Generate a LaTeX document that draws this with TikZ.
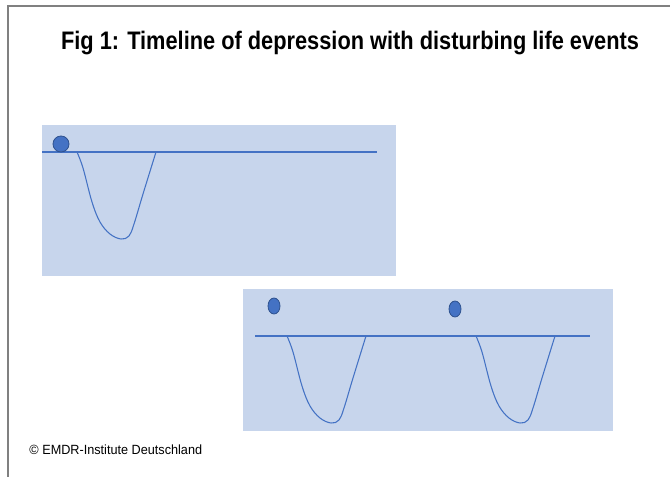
\documentclass[tikz,border=0pt]{standalone}
\usepackage{fontspec}
\setmainfont{Liberation Sans}
\definecolor{panelblue}{RGB}{199,213,236}
\definecolor{lineblue}{RGB}{68,114,196}
\definecolor{dotedge}{RGB}{47,82,143}
\tikzset{
  panel/.style={fill=panelblue, draw=none},
  baseline/.style={lineblue, line width=1.1pt},
  dip/.style={lineblue, line width=0.8pt},
  event/.style={fill=lineblue, draw=dotedge, line width=0.6pt}
}
\begin{document}
\begin{tikzpicture}[x=0.75pt, y=-0.75pt]
                \useasboundingbox (0,0) rectangle (670,477);
                % Frame
                \draw[gray, line width=0.8pt] (8,477) -- (8,6) -- (670,6);
                \node[font=\bfseries\fontsize{19}{22}\selectfont, xscale=0.86] (title) at (350,43) {Fig 1: Timeline of depression with disturbing life events};
                % Panels
                \fill[panel] (42,125) rectangle (396,276);
                \fill[panel] (243,289) rectangle (613,431);
                % Lines
                \draw[baseline] (42,152) -- (377,152);
                \draw[baseline] (255,336) -- (590,336);
                % Depressions
                \foreach \x/\y in {77/152, 287/336, 476/336}
                  \draw[dip, shift={(\x,\y)}] plot[smooth, tension=0.6] coordinates
                    {(0,0) (6,16) (15,50) (23,70) (33,82) (44,87) (52,84) (57,72) (66,42) (79,0)};
                % Events
                \filldraw[event] (61,144) circle (8);
                \filldraw[event] (274,306) ellipse (6 and 8);
                \filldraw[event] (455,309) ellipse (6 and 8);
                \node[anchor=west, font=\fontsize{10}{12}\selectfont, xscale=0.95] (copyright) at (25,450) {© EMDR-Institute Deutschland};
            \end{tikzpicture}
\end{document}
